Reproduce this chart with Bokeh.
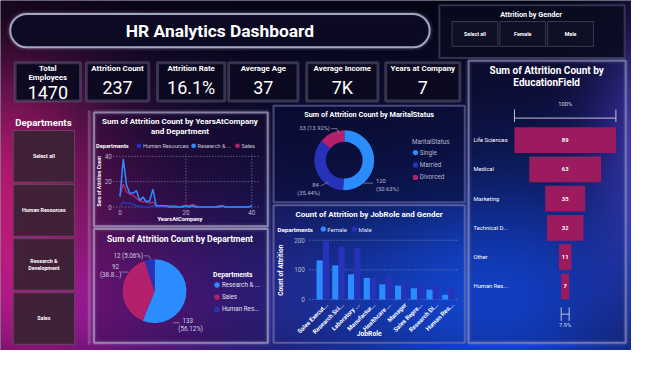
import numpy as np
from bokeh.plotting import figure
from bokeh.models import Range1d, ColumnDataSource
from bokeh.core.properties import value
from bokeh.transform import dodge
from bokeh.embed import file_html
from bokeh.resources import INLINE

# ---------------- data ----------------
dashboard_title = "HR Analytics Dashboard"
gender_title = "Attrition by Gender"
gender_options = ["Select all", "Female", "Male"]
department_options = [["Select all"], ["Human Resources"], ["Research &", "Development"], ["Sales"]]

kpi_titles = [["Total", "Employees"], ["Attrition Count"], ["Attrition Rate"], ["Average Age"],
              ["Average Income"], ["Years at Company"]]
kpi_values = ["1470", "237", "16.1%", "37", "7K", "7"]

years_at_company = list(range(41))
attr_hr = [1, 4, 3, 3, 2, 1, 1, 0, 0, 0, 1, 0, 0, 0, 0, 0, 0, 0, 0, 0, 0,
           0, 0, 0, 0, 0, 0, 0, 0, 0, 0, 0, 0, 0, 0, 0, 0, 0, 0, 0, 0]
attr_rd = [8, 38, 17, 11, 11, 13, 5, 8, 4, 5, 14, 1, 1, 1, 1, 0, 0, 0, 0, 0, 1,
           0, 1, 0, 0, 0, 0, 0, 0, 0, 0, 1, 0, 0, 0, 0, 0, 0, 0, 0, 1]
attr_sales = [9, 18, 12, 10, 9, 7, 5, 4, 5, 3, 4, 1, 1, 1, 0, 1, 1, 1, 0, 1, 1,
              1, 2, 1, 0, 0, 0, 0, 0, 0, 1, 1, 0, 0, 0, 0, 0, 0, 0, 0, 0]
line_series = ["Human Resources", "Research & ...", "Sales"]
line_ticks = [0, 20, 40]

dept_names = ["Research & ...", "Sales", "Human Res..."]
dept_counts = [133, 92, 12]

marital_status = ["Single", "Married", "Divorced"]
marital_counts = [120, 84, 33]

job_roles = ["Sales Execut...", "Research Sci...", "Laboratory ...", "Manufactur...", "Healthcare ...",
             "Manager", "Sales Repre...", "Research Di...", "Human Res..."]
female_counts = [132, 115, 85, 73, 51, 47, 38, 33, 16]
male_counts = [197, 179, 175, 73, 81, 55, 45, 47, 37]
bar_ticks = [0, 100, 200]

edu_fields = ["Life Sciences", "Medical", "Marketing", "Technical D...", "Other", "Human Res..."]
edu_counts = [89, 63, 35, 32, 11, 7]

# ---------------- style ----------------
FONT = "Roboto"
C_LIGHT = "#2b8cff"
C_DARK = "#2632b8"
C_MAG = "#b3206b"
C_FUNNEL = "#9c1b5e"
GREY = "#b8b8cc"
FW, FH = 631, 350
X0, X1, YB, YT = 0, 647, 0, 366
S = ((FW / X1) * (FH / YT)) ** 0.5  # text / marker scale

p = figure(width=FW, height=FH, x_range=Range1d(X0, X1), y_range=Range1d(YB, YT),
           output_backend="svg", toolbar_location=None, min_border=0)
p.axis.visible = False
p.grid.visible = False
p.outline_line_color = None
p.background_fill_color = "#0a0a26"
p.border_fill_color = "#0a0a26"


def Y(y):
    return 366 - y


def fs(size):
    return f"{size * S:.2f}px"


xr, yr = {}, {}


def add_ranges(name, dx0, dx1, sx0, sx1, dy0, dy1, sy0, sy1):
    kx = (dx1 - dx0) / (sx1 - sx0)
    xr[name] = Range1d(dx0 + (X0 - sx0) * kx, dx0 + (X1 - sx0) * kx)
    y0, y1 = Y(sy0), Y(sy1)
    ky = (dy1 - dy0) / (y1 - y0)
    yr[name] = Range1d(dy0 + (YB - y0) * ky, dy0 + (YT - y0) * ky)


def txt(x, y, s, size, color="white", bold=False, align="center", baseline="middle", angle=0, **kw):
    p.text(x=[x], y=[Y(y)], text=[s], text_font=value(FONT), text_font_size=fs(size),
           text_color=color, text_font_style="bold" if bold else "normal",
           text_align=align, text_baseline=baseline, angle=angle, **kw)


def box(x0, y0, x1, y1, fill, falpha=1.0, line=None, lw=1, lalpha=1.0, radius=0, glow=None):
    if glow:
        for w, a in ((7, 0.08), (4, 0.15)):
            p.quad(left=[x0], right=[x1], top=[Y(y0)], bottom=[Y(y1)], fill_color=None,
                   line_color=glow, line_width=w, line_alpha=a, border_radius=radius)
    p.quad(left=[x0], right=[x1], top=[Y(y0)], bottom=[Y(y1)], fill_color=fill, fill_alpha=falpha,
           line_color=line, line_width=lw, line_alpha=lalpha, border_radius=radius)


# ---------------- background ----------------
xs = np.arange(X0, X1) + 0.5
ys = np.arange(YB, YT) + 0.5
GX, GY = np.meshgrid(xs, ys)
rgb = np.zeros(GX.shape + (3,)) + np.array([12, 10, 40], float)


def blob(cx, cy, sx, sy, col):
    global rgb
    g = np.exp(-0.5 * ((GX - cx) / sx) ** 2 - 0.5 * ((GY - cy) / sy) ** 2)
    rgb = rgb + g[..., None] * np.array(col, float)


blob(-10, 215, 90, 115, (170, 15, 70))
blob(80, 340, 120, 55, (60, 5, 55))
blob(180, 280, 80, 70, (35, 5, 40))
blob(400, 310, 130, 80, (5, 45, 125))
blob(550, 310, 90, 100, (5, 40, 120))
blob(660, 140, 40, 120, (50, 40, 120))
dark = 1 - 0.45 * np.exp(-0.5 * (GY / 45) ** 2)
rgb = rgb * dark[..., None]
rgb = np.clip(rgb, 0, 255).astype(np.uint8)
rgb = np.flipud(rgb)
h, w = rgb.shape[:2]
img = np.empty((h, w), dtype=np.uint32)
view = img.view(dtype=np.uint8).reshape((h, w, 4))
view[..., 0] = rgb[..., 0]
view[..., 1] = rgb[..., 1]
view[..., 2] = rgb[..., 2]
view[..., 3] = 255
p.image_rgba(image=[img], x=X0, y=YB, dw=X1 - X0, dh=YT - YB)

# ---------------- header ----------------
box(10, 14, 440, 49, "#0d0b24", 0.95, "#b4b4d4", 2, 0.9, radius=17, glow="#b4b4d4")
txt(225, 31.5, dashboard_title, 18, bold=True)

box(450, 5, 640, 60, "#0a0a20", 0.85, "#3c3c5c", 2, 0.8)
txt(544, 15, gender_title, 7.5, bold=True)
for i, g in enumerate(gender_options):
    bx = 463 + i * 49
    box(bx, 22, bx + 47, 48, "#0f0f26", 1, "#3a3a56", 1)
    txt(bx + 23.5, 35, g, 5.5, bold=True)

# ---------------- KPI cards ----------------
kpi_boxes = [(15, 82), (88, 152), (161, 230), (234, 305), (314, 387), (395, 471)]
for (a, b), t, v in zip(kpi_boxes, kpi_titles, kpi_values):
    box(a, 65, b, 105, "#0b0920", 0.95, "#5c5874", 3, 0.55)
    c = (a + b) / 2
    if len(t) == 2:
        txt(c, 71, t[0], 8.2, bold=True)
        txt(c, 80, t[1], 8.2, bold=True)
        txt(c, 96, v, 18.6)
    else:
        txt(c, 71, t[0], 8.2, bold=True)
        txt(c, 91, v, 18.6)

# ---------------- department slicer ----------------
p.segment(x0=[91], x1=[91], y0=[Y(115)], y1=[Y(360)], line_color="#b0a0c0", line_width=3, line_alpha=0.35)
txt(44, 128, "Departments", 10, bold=True)
for i, lines in enumerate(department_options):
    top = 136 + i * 56.5
    box(13, top, 76, top + 54, "#3b2236", 0.95, "#6e4064", 1)
    mid = top + 27
    if len(lines) == 2:
        txt(44.5, mid - 4, lines[0], 5.5, bold=True)
        txt(44.5, mid + 4, lines[1], 5.5, bold=True)
    else:
        txt(44.5, mid, lines[0], 5.5, bold=True)

# ---------------- panels ----------------
box(96, 117, 274, 236, "#1a0a34", 0.35, "#a6a2c2", 2, 0.75, glow="#a6a2c2")
box(96, 239, 274, 358, "#1a0a34", 0.35, "#a6a2c2", 2, 0.75, glow="#a6a2c2")
box(280, 110, 476, 211, "#0a0c38", 0.55, "#585890", 2, 0.8)
box(280, 214, 476, 358, "#0e2060", 0.2, "#6a6aa0", 2, 0.8)
box(480, 63, 641, 358, "#0c0f40", 0.25, "#8a8ab8", 2, 0.7, glow="#8a8ab8")

# ---------------- line chart ----------------
add_ranges("ln", 0, 40, 122.5, 257.7, 0, 40, 216, 163)
txt(184, 127, "Sum of Attrition Count by YearsAtCompany", 8.3, bold=True)
txt(184, 137.5, "and Department", 8.3, bold=True)
txt(98, 152, "Departments", 5.8, bold=True, align="left")
leg_x = [142, 198, 243]
for lx, name, col in zip(leg_x, line_series, [C_DARK, C_LIGHT, C_MAG]):
    p.scatter(x=[lx], y=[Y(152)], size=5 * S, marker="circle", fill_color=col, line_color=None)
    txt(lx + 4, 152, name, 5.8, color="#c8c8dc", align="left")
for t in line_ticks:
    p.segment(x0=[-2], x1=[42], y0=[t], y1=[t], x_range_name="ln", y_range_name="ln",
              line_color="#8080a8", line_dash="1 2", line_width=1)
    if t > 0:
        p.segment(x0=[t], x1=[t], y0=[-1], y1=[42], x_range_name="ln", y_range_name="ln",
                  line_color="#8080a8", line_dash="1 2", line_width=1)
p.text(x=[114] * 3, y=line_ticks, text=[str(t) for t in line_ticks],
       y_range_name="ln", text_font=value(FONT), text_font_size=fs(6.5), text_color=GREY,
       text_align="right", text_baseline="middle")
p.text(x=line_ticks, y=[Y(222)] * 3, text=[str(t) for t in line_ticks], x_range_name="ln",
       text_font=value(FONT), text_font_size=fs(6.5), text_color=GREY,
       text_align="center", text_baseline="middle")
txt(101, 189, "Sum of Attrition Count", 5.2, bold=True, angle=np.pi / 2)
txt(184, 229, "YearsAtCompany", 6, bold=True)
for ser, col in ((attr_sales, C_MAG), (attr_hr, C_DARK), (attr_rd, C_LIGHT)):
    p.line(x=years_at_company, y=ser, x_range_name="ln", y_range_name="ln",
           line_color=col, line_width=1.5)

# ---------------- pie (department) ----------------
add_ranges("pie", 0, 1, 158, 159, 0, 1, 304, 303)
txt(184, 249, "Sum of Attrition Count by Department", 8.9, bold=True)
tot = sum(dept_counts)
cum = np.cumsum([0] + dept_counts) / tot
pie_src = ColumnDataSource(dict(start=np.pi / 2 - 2 * np.pi * cum[:-1], end=np.pi / 2 - 2 * np.pi * cum[1:],
                                color=[C_LIGHT, C_MAG, C_DARK]))
p.wedge(x=0, y=0, radius=33 * S, radius_units="screen", start_angle="start", end_angle="end",
        direction="clock", fill_color="color", line_color=None, source=pie_src,
        x_range_name="pie", y_range_name="pie")
pct = [c / tot * 100 for c in dept_counts]
txt(192, 335, f"{dept_counts[0]}", 6.5, color="#d0d0e0")
txt(195, 343.5, f"({pct[0]:.2f}%)", 6.5, color="#d0d0e0")
txt(118, 278, f"{dept_counts[1]}", 6.5, color="#d0d0e0")
txt(113, 287, f"({pct[1]:.2f}"[:5] + "...)", 6.5, color="#d0d0e0")
txt(131, 267.5, f"{dept_counts[2]} ({pct[2]:.2f}%)", 6.5, color="#d0d0e0")
for lx, ly in (([177, 184], [337, 337]), ([124, 131], [284, 284]), ([147, 152, 154], [267, 267, 271])):
    p.line(x=lx, y=[Y(v) for v in ly], line_color="#9090a8", line_width=0.8)
txt(218, 287, "Departments", 7, bold=True, align="left")
for i, (n, col) in enumerate(zip(dept_names, [C_LIGHT, C_MAG, C_DARK])):
    yy = 297.5 + i * 12.8
    p.scatter(x=[222], y=[Y(yy)], size=5.5 * S, marker="circle", fill_color=col, line_color=None)
    txt(227, yy, n, 6.5, color="#e0e0ee", align="left")

# ---------------- donut (marital) ----------------
add_ranges("don", 0, 1, 352.5, 353.5, 0, 1, 167, 166)
txt(378, 119, "Sum of Attrition Count by MaritalStatus", 7.6, bold=True)
mt = sum(marital_counts)
mcum = np.cumsum([0] + marital_counts) / mt
don_src = ColumnDataSource(dict(start=np.pi / 2 - 2 * np.pi * mcum[:-1], end=np.pi / 2 - 2 * np.pi * mcum[1:],
                                color=[C_LIGHT, C_DARK, C_MAG]))
p.annular_wedge(x=0, y=0, inner_radius=19 * S, outer_radius=31 * S, inner_radius_units="screen",
                outer_radius_units="screen", start_angle="start", end_angle="end", direction="clock",
                fill_color="color", line_color=None, source=don_src, x_range_name="don", y_range_name="don")
mp = [c / mt * 100 for c in marital_counts]
txt(385, 188.5, f"{marital_counts[0]}", 6, color=GREY, align="left")
txt(385, 197, f"({mp[0]:.2f}%)", 6, color=GREY, align="left")
txt(323, 193, f"{marital_counts[1]}", 6, color=GREY)
txt(316, 201.5, f"({mp[1]:.2f}%)", 6, color=GREY)
txt(322, 133.5, f"{marital_counts[2]} ({mp[2]:.2f}%)", 6, color=GREY)
for lx, ly in (([372, 382], [191, 191]), ([328, 336], [194, 190]), ([339, 345, 347], [134, 134, 139])):
    p.line(x=lx, y=[Y(v) for v in ly], line_color="#8888a0", line_width=0.8)
txt(422, 148, "MaritalStatus", 6.5, color=GREY, align="left")
for i, (n, col) in enumerate(zip(marital_status, [C_LIGHT, C_DARK, C_MAG])):
    yy = 159 + i * 13
    p.scatter(x=[425.5], y=[Y(yy)], size=5.5 * S, marker="circle", fill_color=col, line_color=None)
    txt(430, yy, n, 6.5, color=GREY, align="left")

# ---------------- bar chart (job role) ----------------
add_ranges("bar", 0, 8, 330.5, 459.3, 0, 200, 312.7, 250.7)
txt(378, 224, "Count of Attrition by JobRole and Gender", 8.25, bold=True)
txt(284, 239, "Departments", 6.3, bold=True, align="left")
for lx, n, col in ((331, "Female", C_LIGHT), (363, "Male", C_DARK)):
    p.scatter(x=[lx], y=[Y(239)], size=5.5 * S, marker="circle", fill_color=col, line_color=None)
    txt(lx + 4, 239, n, 6.3, color="#e0e0ee", align="left")
for t in bar_ticks:
    p.segment(x0=[-0.85], x1=[8.7], y0=[t], y1=[t], x_range_name="bar", y_range_name="bar",
              line_color="#7a86b8", line_dash="1 2", line_width=1)
p.text(x=[312] * 3, y=bar_ticks, text=[str(t) for t in bar_ticks], y_range_name="bar",
       text_font=value(FONT), text_font_size=fs(6.5), text_color=GREY,
       text_align="right", text_baseline="middle")
bar_src = ColumnDataSource(dict(i=list(range(len(job_roles))), f=female_counts, m=male_counts))
p.vbar(x=dodge("i", -0.2), top="f", bottom=0, width=0.4, source=bar_src, fill_color=C_LIGHT,
       line_color=None, x_range_name="bar", y_range_name="bar")
p.vbar(x=dodge("i", 0.2), top="m", bottom=0, width=0.4, source=bar_src, fill_color=C_DARK,
       line_color=None, x_range_name="bar", y_range_name="bar")
p.text(x=[i + 0.25 for i in range(len(job_roles))], y=[Y(317)] * len(job_roles), text=job_roles,
       x_range_name="bar", text_font=value(FONT), text_font_size=fs(6.3), text_color="white",
       text_font_style="bold", text_align="right", text_baseline="middle", angle=np.pi / 4)
txt(288, 282, "Count of Attrition", 6.8, bold=True, angle=np.pi / 2)
txt(378, 349, "JobRole", 7, bold=True)

# ---------------- funnel (education) ----------------
emax = max(edu_counts)
add_ranges("edu", -emax / 2, emax / 2, 527, 631, 0, 5, 146, 299)
txt(560, 73, "Sum of Attrition Count by", 10.4, bold=True)
txt(560, 86, "EducationField", 10.4, bold=True)
edu_src = ColumnDataSource(dict(i=list(range(len(edu_fields))), l=[-v / 2 for v in edu_counts],
                                r=[v / 2 for v in edu_counts], v=[str(v) for v in edu_counts],
                                n=edu_fields))
p.hbar(y="i", left="l", right="r", height=0.88, source=edu_src, fill_color=C_FUNNEL,
       line_color=None, x_range_name="edu", y_range_name="edu")
p.text(x=0, y="i", text="v", source=edu_src, x_range_name="edu", y_range_name="edu",
       text_font=value(FONT), text_font_size=fs(6), text_color="white", text_font_style="bold",
       text_align="center", text_baseline="middle")
p.text(x=485, y="i", text="n", source=edu_src, y_range_name="edu",
       text_font=value(FONT), text_font_size=fs(6), text_color="white",
       text_align="left", text_baseline="middle")
emin = min(edu_counts)
for half, yl, y0, y1, lab, ylab in ((emax / 2, 123, 114, 127, "100%", 108),
                                    (emin / 2, 328, 321, 335, f"{emin / emax * 100:.1f}%", 339.5)):
    p.segment(x0=[-half], x1=[half], y0=[Y(yl)], y1=[Y(yl)], x_range_name="edu",
              line_color="#c0c0d8", line_width=1)
    p.segment(x0=[-half, half], x1=[-half, half], y0=[Y(y0)] * 2, y1=[Y(y1)] * 2, x_range_name="edu",
              line_color="#c0c0d8", line_width=1)
    txt(579, ylab, lab, 6, color="#d8d8e8")

p.extra_x_ranges = xr
p.extra_y_ranges = yr

open("out.html", "w").write(file_html(p, INLINE))
